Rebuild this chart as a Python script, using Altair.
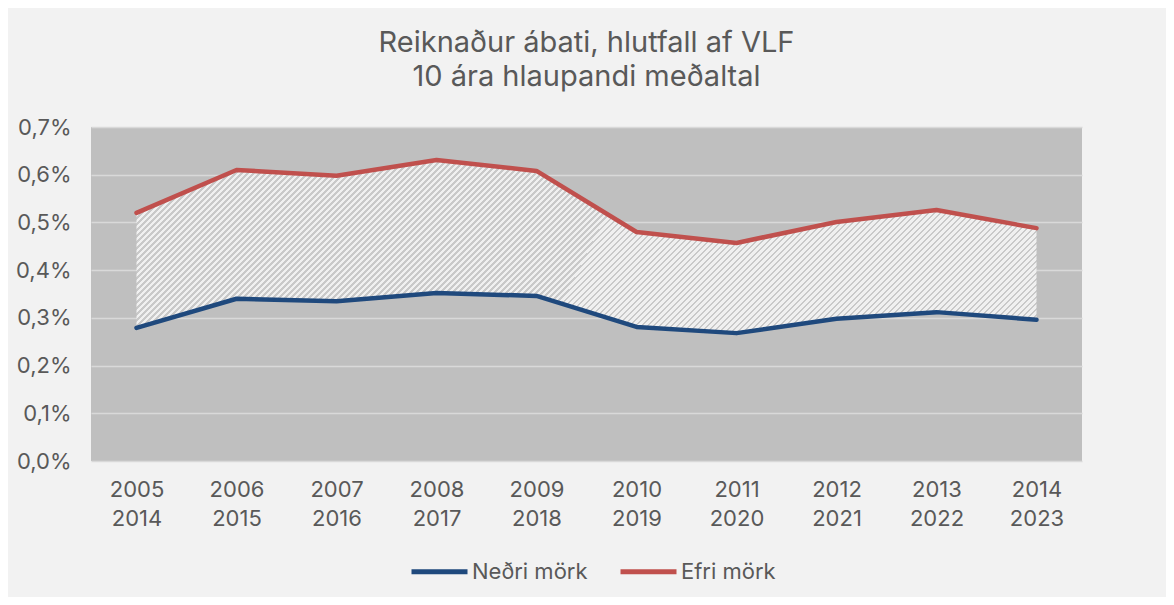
import math
import altair as alt
import pandas as pd

# ---- data ----
start_years = ["2005", "2006", "2007", "2008", "2009", "2010", "2011", "2012", "2013", "2014"]
end_years = ["2014", "2015", "2016", "2017", "2018", "2019", "2020", "2021", "2022", "2023"]
lower = [0.279, 0.340, 0.335, 0.352, 0.346, 0.281, 0.268, 0.298, 0.312, 0.296]   # Neðri mörk (%)
upper = [0.520, 0.610, 0.598, 0.631, 0.608, 0.480, 0.457, 0.501, 0.526, 0.488]   # Efri mörk (%)
series_names = ["Neðri mörk", "Efri mörk"]
series_colors = ["#1f497d", "#c0504d"]
title_lines = ["Reiknaður ábati, hlutfall af VLF", "10 ára hlaupandi meðaltal"]

periods = [f"{a}-{b}" for a, b in zip(start_years, end_years)]

wide = pd.DataFrame({"period": periods, "lower": lower, "upper": upper})
long = pd.concat([
    pd.DataFrame({"period": periods, "series": series_names[0], "value": lower}),
    pd.DataFrame({"period": periods, "series": series_names[1], "value": upper}),
])

FONT = "Inter"
TXT = "#595959"

# striped (hatched) fill built as a hard-stop linear gradient
P = 0.00536
LIGHT_FRAC = 0.55
stops = []
k = 0
while k * P < 1.0:
    b = k * P
    m = b + P * LIGHT_FRAC
    stops += [
        alt.GradientStop(color="#f0f0f0", offset=round(min(b, 1.0), 5)),
        alt.GradientStop(color="#f0f0f0", offset=round(min(m, 1.0), 5)),
        alt.GradientStop(color="#c9c9c9", offset=round(min(m, 1.0), 5)),
        alt.GradientStop(color="#c9c9c9", offset=round(min(b + P, 1.0), 5)),
    ]
    k += 1
hatch = alt.Gradient(gradient="linear", stops=stops, x1=0, y1=0, x2=1.2, y2=0.231)

x_enc = alt.X(
    "period:N",
    sort=periods,
    scale=alt.Scale(type="point", padding=0.455),
    axis=alt.Axis(
        title=None, domain=False, ticks=False, labelAngle=0,
        labelExpr="split(datum.label, '-')",
        labelFont=FONT, labelFontSize=22, labelColor=TXT,
        labelLineHeight=29, labelPadding=18, grid=False,
    ),
)
y_scale = alt.Scale(domain=[0, 0.7], nice=False, zero=True)
y_axis = alt.Axis(
    title=None, domain=False, ticks=False,
    values=[0, 0.1, 0.2, 0.3, 0.4, 0.5, 0.6, 0.7],
    labelExpr="replace(format(datum.value, '.1f'), '.', ',') + '%'",
    labelFont=FONT, labelFontSize=22, labelColor=TXT, labelPadding=20,
    grid=True, gridColor="#d9d9d9", gridWidth=1.5,
)

band = alt.Chart(wide).mark_area(fill=hatch, stroke=None, line=False).encode(
    x=x_enc,
    y=alt.Y("lower:Q", scale=y_scale, axis=y_axis),
    y2="upper:Q",
)

lines = alt.Chart(long).mark_line(strokeWidth=4.5, strokeCap="round", strokeJoin="round").encode(
    x=x_enc,
    y=alt.Y("value:Q", scale=y_scale, axis=y_axis),
    color=alt.Color(
        "series:N",
        scale=alt.Scale(domain=series_names, range=series_colors),
        sort=series_names,
        legend=alt.Legend(
            title=None, orient="none", direction="horizontal",
            legendX=318, legendY=414, padding=0,
            symbolType="stroke", symbolSize=3136, symbolStrokeWidth=5,
            labelFont=FONT, labelFontSize=22, labelColor=TXT,
            labelOffset=2, columnPadding=22,
        ),
    ),
)

chart = alt.layer(band, lines).properties(
    width=991,
    height=334,
    padding={"left": 83, "top": 119, "right": 84, "bottom": 136},
    autosize=alt.AutoSizeParams(type="none"),
    title=alt.TitleParams(
        text=title_lines, anchor="middle", frame="group",
        font=FONT, fontSize=29, fontWeight="normal", color=TXT,
        lineHeight=34, offset=24,
    ),
).configure(
    background="#f2f2f2",
).configure_view(
    fill="#bfbfbf", stroke=None,
)

chart.save("out.html", embed_options={"renderer": "svg", "actions": False})
